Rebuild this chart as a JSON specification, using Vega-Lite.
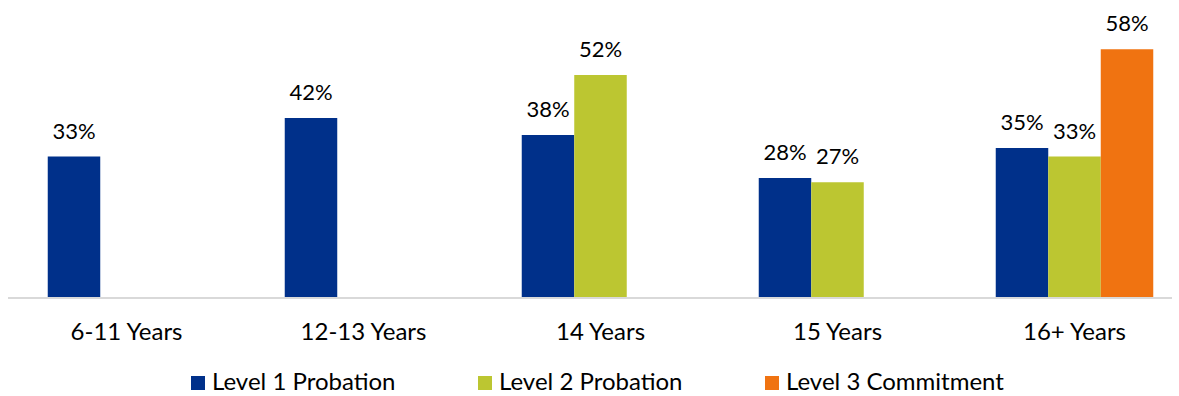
{
  "$schema": "https://vega.github.io/schema/vega-lite/v6.json",
  "width": 1164,
  "height": 298,
  "autosize": "none",
  "padding": {"left": 8, "top": 0, "right": 7, "bottom": 98},
  "background": "white",
  "config": {"view": {"stroke": null}, "font": "Lato"},
  "data": {
    "values": [
      {"age": "6-11 Years", "level": "Level 1 Probation", "value": 0.33},
      {"age": "12-13 Years", "level": "Level 1 Probation", "value": 0.42},
      {"age": "14 Years", "level": "Level 1 Probation", "value": 0.38},
      {"age": "14 Years", "level": "Level 2 Probation", "value": 0.52},
      {"age": "15 Years", "level": "Level 1 Probation", "value": 0.28},
      {"age": "15 Years", "level": "Level 2 Probation", "value": 0.27},
      {"age": "16+ Years", "level": "Level 1 Probation", "value": 0.35},
      {"age": "16+ Years", "level": "Level 2 Probation", "value": 0.33},
      {"age": "16+ Years", "level": "Level 3 Commitment", "value": 0.58}
    ]
  },
  "encoding": {
    "x": {
      "field": "age", "type": "nominal", "sort": null,
      "scale": {"range": [0, 1185], "paddingInner": 0, "paddingOuter": 0},
      "axis": {"title": null, "domain": false, "ticks": false, "labelAngle": 0, "labelFontSize": 24, "labelColor": "#000000", "labelPadding": 22, "labelFont": "Lato"}
    },
    "xOffset": {
      "field": "level", "type": "nominal",
      "scale": {"domain": ["Level 1 Probation", "Level 2 Probation", "Level 3 Commitment"], "paddingInner": 0, "paddingOuter": 0.757}
    },
    "y": {
      "field": "value", "type": "quantitative",
      "scale": {"domain": [0, 0.695], "nice": false},
      "axis": null
    }
  },
  "layer": [
    {
      "mark": {"type": "bar"},
      "encoding": {
        "color": {
          "field": "level", "type": "nominal",
          "scale": {"domain": ["Level 1 Probation", "Level 2 Probation", "Level 3 Commitment"], "range": ["#00308A", "#BCC631", "#F07311"]},
          "legend": {"title": null, "orient": "none", "legendX": 178, "legendY": 371, "direction": "horizontal", "padding": 0, "symbolType": "square", "symbolSize": 196, "symbolStrokeWidth": 0, "symbolOffset": 0, "labelOffset": 2, "labelFontSize": 24, "labelColor": "#000000", "labelFont": "Lato", "labelLimit": 400, "columnPadding": 77}
        }
      }
    },
    {
      "mark": {"type": "text", "baseline": "alphabetic", "dy": -18, "fontSize": 22, "font": "Lato", "color": "#000000"},
      "encoding": {
        "text": {"field": "value", "type": "quantitative", "format": ".0%"}
      }
    },
    {
      "transform": [{"filter": "datum.age == '6-11 Years' && datum.level == 'Level 1 Probation'"}],
      "mark": {"type": "rule", "color": "#D9D9D9", "strokeWidth": 2},
      "encoding": {"x": {"value": 0}, "x2": {"value": 1164}, "xOffset": null, "y": {"datum": 0}}
    }
  ]
}
